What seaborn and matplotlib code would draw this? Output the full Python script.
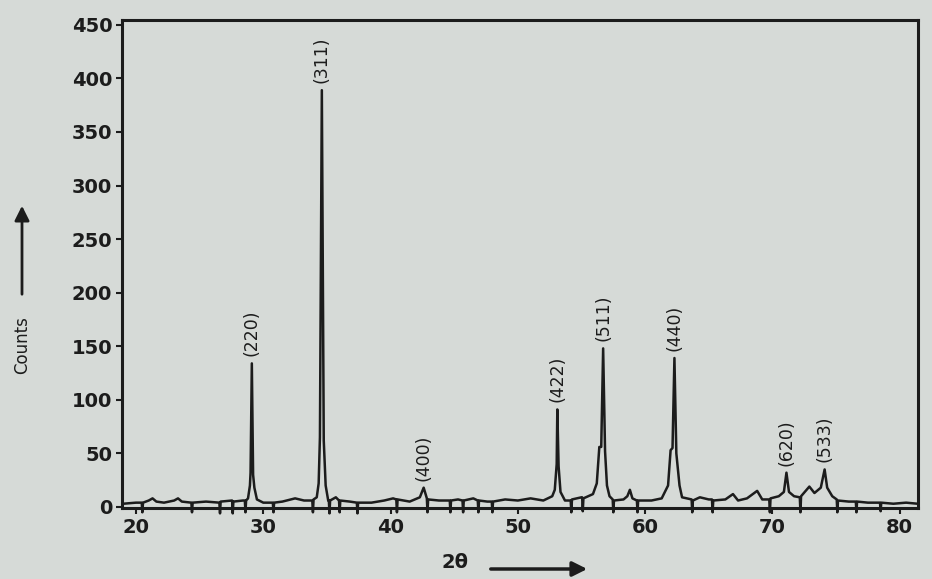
import matplotlib
matplotlib.use('Agg')
import matplotlib.pyplot as plt
import seaborn as sns
import pandas as pd

# XRD trace (2-theta in degrees, counts)
two_theta = [19.0, 20.0, 20.45, 20.5, 20.55, 21.0, 21.3, 21.6, 22.2, 23.0, 23.3, 23.6,
             24.35, 24.4, 24.45, 25.5, 26.55, 26.6, 26.65, 27.55, 27.6, 27.65, 28.4, 28.55,
             28.6, 28.65, 28.8, 28.95, 29.0, 29.1, 29.2, 29.3, 29.5, 30.0, 30.75, 30.8,
             30.85, 31.5, 32.5, 33.2, 33.85, 33.9, 33.95, 34.2, 34.35, 34.45, 34.6, 34.75,
             34.9, 35.1, 35.15, 35.2, 35.25, 35.7, 35.95, 36.0, 36.05, 36.8, 37.35, 37.4,
             37.45, 38.5, 39.5, 40.2, 40.45, 40.5, 40.55, 41.5, 42.3, 42.6, 42.85, 42.9,
             42.95, 43.8, 44.65, 44.7, 44.75, 45.3, 45.65, 45.7, 45.75, 46.5, 46.85, 46.9,
             46.95, 47.6, 47.95, 48.0, 48.05, 49.0, 50.0, 51.0, 52.0, 52.7, 52.9, 53.05,
             53.1, 53.2, 53.35, 53.7, 54.15, 54.2, 54.25, 55.0, 55.05, 55.1, 55.15, 55.9,
             56.2, 56.4, 56.55, 56.7, 56.85, 57.0, 57.2, 57.45, 57.5, 57.55, 58.3, 58.6,
             58.8, 59.0, 59.35, 59.4, 59.45, 60.5, 61.3, 61.8, 62.0, 62.15, 62.3, 62.45,
             62.7, 62.9, 63.65, 63.7, 63.75, 64.3, 65.0, 65.25, 65.3, 65.35, 66.3, 66.9,
             67.3, 68.0, 68.8, 69.2, 69.75, 69.8, 69.85, 70.5, 70.9, 71.1, 71.3, 71.7,
             72.15, 72.2, 72.25, 72.9, 73.3, 73.8, 74.1, 74.3, 74.7, 75.05, 75.1, 75.15,
             76.0, 76.55, 76.6, 76.65, 77.5, 78.45, 78.5, 78.55, 79.5, 80.5, 81.4]
counts = [3, 4, 4, -5, 4, 6, 8, 5, 4, 6, 8, 5,
          4, -5, 4, 5, 4, -6, 5, 6, -6, 5, 6, 6,
          -5, 6, 8, 20, 32, 134, 30, 18, 7, 4, 4, -5,
          4, 5, 8, 6, 6, -5, 7, 9, 22, 65, 389, 62,
          20, 6, 6, -6, 6, 9, 6, -5, 6, 5, 4, -6,
          4, 4, 6, 8, 7, -5, 7, 5, 9, 18, 8, -5,
          7, 6, 6, -5, 6, 7, 6, -5, 6, 8, 6, -5,
          6, 5, 5, -5, 5, 7, 6, 8, 6, 10, 16, 40,
          91, 38, 14, 6, 6, -5, 7, 9, 9, -4, 8, 12,
          22, 56, 56, 148, 52, 20, 10, 7, -5, 6, 7, 10,
          16, 8, 6, -5, 6, 6, 8, 20, 53, 55, 139, 50,
          20, 9, 7, -5, 6, 9, 7, 7, -5, 6, 7, 12,
          6, 8, 15, 7, 7, -5, 8, 10, 14, 32, 14, 10,
          9, -5, 10, 19, 13, 18, 35, 18, 10, 7, -5, 6,
          5, 5, -5, 5, 4, 4, -4, 4, 3, 4, 3]

# Miller indices of the labelled reflections
hkl = ['(220)', '(311)', '(400)', '(422)', '(511)', '(440)', '(620)', '(533)']
peak_pos = [29.1, 34.6, 42.6, 53.1, 56.7, 62.3, 71.1, 74.1]
peak_height = [134, 389, 18, 91, 148, 139, 32, 35]

xticks = [20, 30, 40, 50, 60, 70, 80]
yticks = [0, 50, 100, 150, 200, 250, 300, 350, 400, 450]

paper = '#d6dad7'
ink = '#1c1c1c'

sns.set_style('ticks')
plt.rcParams['font.family'] = ['DejaVu Sans']

df = pd.DataFrame({'two_theta': two_theta, 'counts': counts})

fig = plt.figure(figsize=(9.32, 5.79), dpi=100, facecolor=paper)
ax = fig.add_axes([0.1309, 0.1226, 0.854, 0.843])
ax.set_facecolor(paper)

sns.lineplot(data=df, x='two_theta', y='counts', sort=False, estimator=None,
             color=ink, linewidth=1.8, ax=ax, clip_on=False)

for lab, x, h in zip(hkl, peak_pos, peak_height):
    ax.annotate(lab, xy=(x, h), xytext=(0, 7), textcoords='offset pixels',
                rotation=90, ha='center', va='bottom', fontsize=12.5, color=ink)

ax.set_xlim(18.9, 81.43)
ax.set_ylim(-1, 454.6)
ax.set_xticks(xticks)
ax.set_yticks(yticks)
ax.tick_params(axis='both', direction='out', length=4, width=1.5, colors=ink,
               labelsize=14, pad=3)
for t in ax.get_xticklabels() + ax.get_yticklabels():
    t.set_fontweight('bold')
ax.set_xlabel('')
ax.set_ylabel('')
for side in ['left', 'right', 'top', 'bottom']:
    ax.spines[side].set_visible(True)
    ax.spines[side].set_color(ink)
    ax.spines[side].set_linewidth(2.2)

# axis captions with arrows, as on the original print-out
fig.text(22 / 932, 1 - 345 / 579, 'Counts', rotation=90, ha='center', va='center',
         fontsize=12, color=ink)
ax.annotate('', xy=(22, 376), xytext=(22, 282), xycoords='figure pixels',
            textcoords='figure pixels',
            arrowprops=dict(arrowstyle='-|>', color=ink, lw=2, mutation_scale=22))
fig.text(455 / 932, 16 / 579, '2θ', ha='center', va='center', fontsize=14,
         fontweight='bold', color=ink)
ax.annotate('', xy=(590, 10), xytext=(488, 10), xycoords='figure pixels',
            textcoords='figure pixels',
            arrowprops=dict(arrowstyle='-|>', color=ink, lw=2.5, mutation_scale=22))

fig.savefig('out.png', dpi=100, facecolor=paper)
